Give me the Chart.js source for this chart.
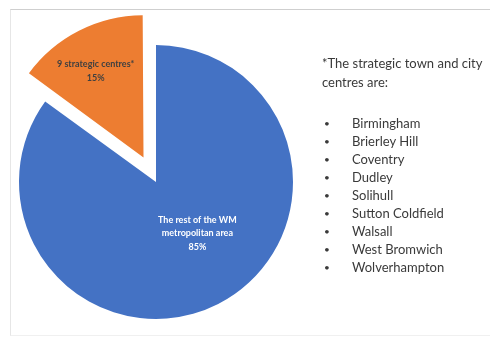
<!DOCTYPE html>
<html>
<head>
<meta charset="utf-8">
<script src="https://cdn.jsdelivr.net/npm/chart.js@4/dist/chart.umd.min.js"></script>
<style>
    html, body {
        margin: 0;
        padding: 0;
        width: 490px;
        height: 337px;
        overflow: hidden;
        background: #fff;
        font-family: Lato, 'Open Sans', sans-serif;
    }
    .frame {
        position: absolute;
        left: 10px;
        top: 9px;
        width: 490px;
        height: 325px;
        border-top: 1px solid #cfcfcf;
        border-left: 1px solid #e6e6e6;
        border-bottom: 1px solid #f0f0f0;
    }
    .wrap {
        position: absolute;
        left: -94px;
        top: -68px;
        width: 500px;
        height: 500px;
    }
    .note {
        position: absolute;
        left: 322px;
        top: 54px;
        font-size: 13px;
        line-height: 19px;
        color: #3a3a3a;
        white-space: nowrap;
        z-index: 2;
    }
    .list {
        position: absolute;
        left: 322px;
        top: 114px;
        margin: 0;
        padding: 0;
        list-style: none;
        font-size: 13px;
        line-height: 18px;
        color: #3a3a3a;
        z-index: 2;
    }
    .list li span {
        display: inline-block;
        width: 28px;
        padding-left: 2px;
        font-size: 10px;
        vertical-align: top;
    }
</style>
</head>
<body>
<div class="frame"></div>
<div class="wrap"><canvas id="chart"></canvas></div>
<div class="note" id="note"></div>
<ul class="list" id="list"></ul>
<script>
    const categories = ['The rest of the WM metropolitan area', '9 strategic centres*'];
    const shares = [85, 15];
    const noteLines = ['*The strategic town and city', 'centres are:'];
    const centres = ['Birmingham', 'Brierley Hill', 'Coventry', 'Dudley', 'Solihull', 'Sutton Coldfield', 'Walsall', 'West Bromwich', 'Wolverhampton'];

    const sliceColors = ['#4472C4', '#ED7D31'];
    const sliceOffsets = [0, 110];

    // label lines for each slice, drawn inside the arcs
    const sliceLabels = [
        ['The rest of the WM', 'metropolitan area', shares[0] + '%'],
        [categories[1], shares[1] + '%'],
    ];
    const labelStyle = [
        { color: '#ffffff', frac: 0.48, turn: -12 },
        { color: '#404040', frac: 0.72, turn: -2 },
    ];

    document.getElementById('note').innerHTML = noteLines.join('<br>');
    document.getElementById('list').innerHTML = centres
        .map((name) => `<li><span>&bull;</span>${name}</li>`)
        .join('');

    const sliceLabelPlugin = {
        id: 'sliceLabels',
        afterDatasetsDraw(chart) {
            const ctx = chart.ctx;
            const arcs = chart.getDatasetMeta(0).data;

            ctx.save();
            ctx.font = 'bold 9px Lato, sans-serif';
            ctx.textAlign = 'center';
            ctx.textBaseline = 'middle';

            arcs.forEach((arc, i) => {
                const p = arc.getProps(['x', 'y', 'startAngle', 'endAngle', 'outerRadius'], true);
                const mid = (p.startAngle + p.endAngle) / 2;
                const shift = sliceOffsets[i] / 4;
                const ang = mid + (labelStyle[i].turn * Math.PI) / 180;
                const dist = p.outerRadius * labelStyle[i].frac;
                const cx = p.x + Math.cos(mid) * shift + Math.cos(ang) * dist;
                const cy = p.y + Math.sin(mid) * shift + Math.sin(ang) * dist;
                const lines = sliceLabels[i];
                const lh = 13.5;

                ctx.fillStyle = labelStyle[i].color;
                lines.forEach((line, j) => {
                    ctx.fillText(line, cx, cy + (j - (lines.length - 1) / 2) * lh);
                });
            });

            ctx.restore();
        },
    };

    new Chart(document.getElementById('chart').getContext('2d'), {
        type: 'pie',
        data: {
            labels: categories,
            datasets: [
                {
                    data: shares,
                    backgroundColor: sliceColors,
                    borderWidth: 0,
                    offset: sliceOffsets,
                    hoverOffset: 0,
                },
            ],
        },
        options: {
            responsive: true,
            maintainAspectRatio: false,
            animation: false,
            radius: 137,
            layout: { padding: 0 },
            plugins: {
                legend: { display: false },
                tooltip: { enabled: false },
            },
        },
        plugins: [sliceLabelPlugin],
    });
</script>
</body>
</html>
